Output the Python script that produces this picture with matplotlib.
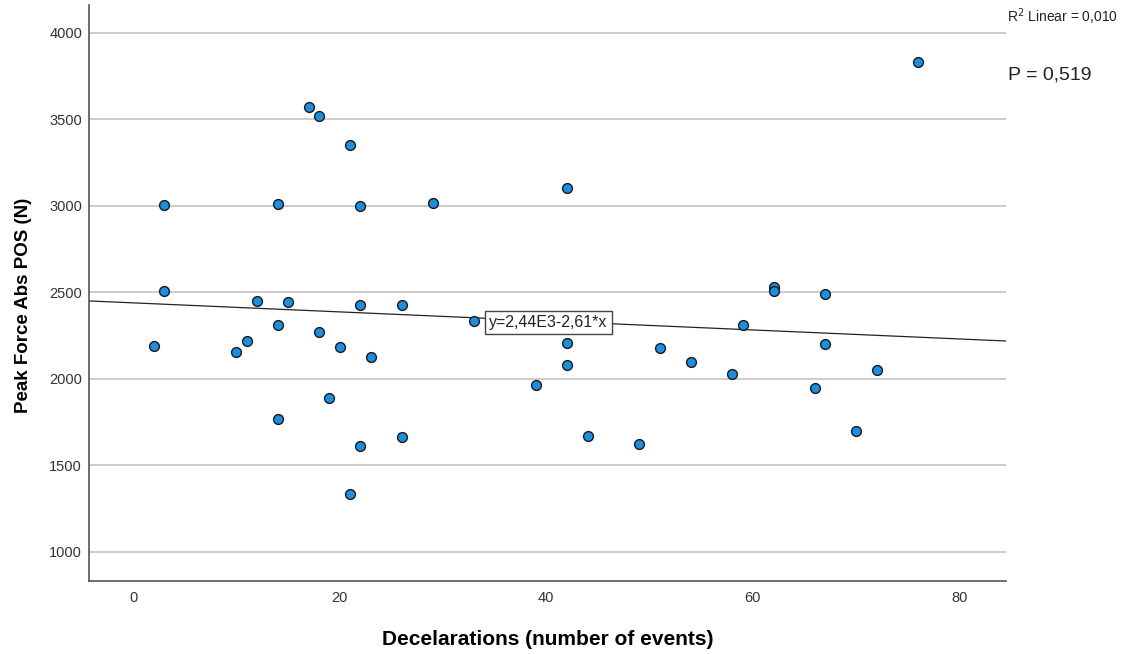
import numpy as np
import matplotlib
matplotlib.use('Agg')
import matplotlib.pyplot as plt

plt.rcParams['font.family'] = ['Liberation Sans', 'DejaVu Sans']

decelerations = [2, 3, 3, 10, 11, 12, 14, 14, 14, 15, 17, 18, 18, 19, 20, 21, 21, 22, 22, 22,
                 23, 26, 26, 29, 33, 39, 42, 42, 42, 44, 49, 51, 54, 59, 58, 62, 62, 67, 67,
                 66, 70, 72, 76]
peak_force = [2191, 3006, 2509, 2156, 2220, 2451, 3012, 2312, 1769, 2445, 3572, 3520, 2272,
              1890, 2185, 3353, 1335, 3000, 2428, 1613, 2127, 2428, 1665, 3017, 2335, 1965,
              3104, 2208, 2081, 1671, 1624, 2179, 2098, 2312, 2029, 2532, 2509, 2491, 2202,
              1948, 1700, 2052, 3832]
intercept = 2440
slope = -2.61
x_ticks = [0, 20, 40, 60, 80]
y_ticks = [1000, 1500, 2000, 2500, 3000, 3500, 4000]

fig = plt.figure(figsize=(11.31, 6.54), dpi=100)
ax = fig.add_axes([0.0787, 0.1116, 0.8108, 0.8808])

xmin, xmax = -4.26, 84.5
ax.set_xlim(xmin, xmax)
ax.set_ylim(832, 4162)

ax.set_yticks(y_ticks)
ax.set_xticks(x_ticks)
ax.grid(axis='y', color='#cccccc', linewidth=1.4)
ax.set_axisbelow(True)
ax.tick_params(length=0, labelsize=10.5, colors='#333333', pad=5)
ax.tick_params(axis='x', pad=7)
for side in ['top', 'right']:
    ax.spines[side].set_visible(False)
for side in ['left', 'bottom']:
    ax.spines[side].set_color('#555555')
    ax.spines[side].set_linewidth(1.2)

# fit line
xs = np.array([xmin, xmax])
ax.plot(xs, intercept + slope * xs, color='#222222', linewidth=0.9, zorder=2)

ax.scatter(decelerations, peak_force, s=50, color='#1a8ee0', edgecolors='#1a1a1a',
           linewidths=1.0, zorder=3)

ax.text(34.5, intercept + slope * 34.5 - 25, 'y=2,44E3-2,61*x', fontsize=11.5, color='#222222',
        ha='left', va='center', zorder=4,
        bbox=dict(boxstyle='square,pad=0.25', facecolor='white', edgecolor='#444444', linewidth=1))

ax.set_xlabel('Decelarations (number of events)', fontsize=15, fontweight='bold', labelpad=18)
ax.set_ylabel('Peak Force Abs POS (N)', fontsize=13.5, fontweight='bold')
ax.yaxis.set_label_coords(-0.062, 0.479)

fig.text(1007 / 1131, 1 - 17 / 654, 'R$^2$ Linear = 0,010', fontsize=10, color='#222222',
         ha='left', va='center')
fig.text(1008 / 1131, 1 - 75 / 654, 'P = 0,519', fontsize=14, color='#222222',
         ha='left', va='center')

fig.savefig('out.png', dpi=100)
